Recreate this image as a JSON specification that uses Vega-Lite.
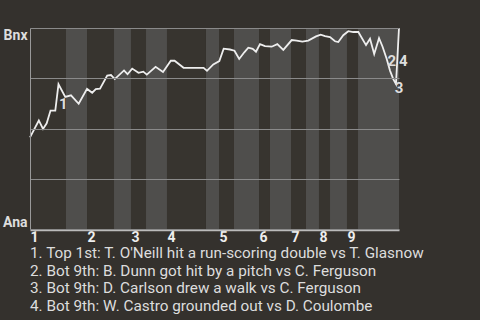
{
  "$schema": "https://vega.github.io/schema/vega-lite/v6.json",
  "width": 369,
  "height": 201,
  "autosize": {"type": "none"},
  "padding": {"left": 30, "top": 28, "right": 81, "bottom": 91},
  "background": "#34312d",
  "config": {"view": {"stroke": null}, "font": "Roboto"},
  "title": {
    "text": [
      "1. Top 1st: T. O'Neill hit a run-scoring double vs T. Glasnow",
      "2. Bot 9th: B. Dunn got hit by a pitch vs C. Ferguson",
      "3. Bot 9th: D. Carlson drew a walk vs C. Ferguson",
      "4. Bot 9th: W. Castro grounded out vs D. Coulombe"
    ],
    "orient": "bottom",
    "anchor": "start",
    "frame": "group",
    "fontSize": 15.3,
    "fontWeight": "normal",
    "color": "#dddddd",
    "lineHeight": 17.7,
    "offset": 2,
    "font": "Roboto"
  },
  "datasets": {
    "halves": [
      {"inning": 1, "half": "top", "start": 0, "end": 8},
      {"inning": 1, "half": "bot", "start": 8, "end": 12.67},
      {"inning": 2, "half": "top", "start": 12.67, "end": 18.67},
      {"inning": 2, "half": "bot", "start": 18.67, "end": 22.44},
      {"inning": 3, "half": "top", "start": 22.44, "end": 25.78},
      {"inning": 3, "half": "bot", "start": 25.78, "end": 30.44},
      {"inning": 4, "half": "top", "start": 30.44, "end": 39.11},
      {"inning": 4, "half": "bot", "start": 39.11, "end": 42},
      {"inning": 5, "half": "top", "start": 42, "end": 45.33},
      {"inning": 5, "half": "bot", "start": 45.33, "end": 50.89},
      {"inning": 6, "half": "top", "start": 50.89, "end": 53.33},
      {"inning": 6, "half": "bot", "start": 53.33, "end": 58},
      {"inning": 7, "half": "top", "start": 58, "end": 61.33},
      {"inning": 7, "half": "bot", "start": 61.33, "end": 64.22},
      {"inning": 8, "half": "top", "start": 64.22, "end": 66.67},
      {"inning": 8, "half": "bot", "start": 66.67, "end": 70.44},
      {"inning": 9, "half": "top", "start": 70.44, "end": 72.89},
      {"inning": 9, "half": "bot", "start": 72.89, "end": 82}
    ],
    "wp": [
      {"play": 0, "wp": 0.456},
      {"play": 1.96, "wp": 0.54},
      {"play": 2.89, "wp": 0.498},
      {"play": 3.71, "wp": 0.526},
      {"play": 4.56, "wp": 0.589},
      {"play": 5.62, "wp": 0.589},
      {"play": 6.33, "wp": 0.72},
      {"play": 7.84, "wp": 0.657},
      {"play": 9.11, "wp": 0.665},
      {"play": 10.82, "wp": 0.623},
      {"play": 12.67, "wp": 0.697},
      {"play": 13.82, "wp": 0.678},
      {"play": 14.62, "wp": 0.696},
      {"play": 15.56, "wp": 0.698},
      {"play": 17.16, "wp": 0.763},
      {"play": 18, "wp": 0.766},
      {"play": 18.84, "wp": 0.746},
      {"play": 20.89, "wp": 0.789},
      {"play": 21.67, "wp": 0.77},
      {"play": 22.71, "wp": 0.798},
      {"play": 24.11, "wp": 0.777},
      {"play": 25.18, "wp": 0.783},
      {"play": 25.96, "wp": 0.768},
      {"play": 27.91, "wp": 0.807},
      {"play": 29.56, "wp": 0.781},
      {"play": 31.29, "wp": 0.837},
      {"play": 32.13, "wp": 0.837},
      {"play": 34.13, "wp": 0.802},
      {"play": 38.58, "wp": 0.802},
      {"play": 39.33, "wp": 0.787},
      {"play": 40.73, "wp": 0.819},
      {"play": 42.07, "wp": 0.835},
      {"play": 43.04, "wp": 0.897},
      {"play": 44.44, "wp": 0.893},
      {"play": 45.44, "wp": 0.887},
      {"play": 46.49, "wp": 0.846},
      {"play": 47.62, "wp": 0.879},
      {"play": 48.51, "wp": 0.902},
      {"play": 49.49, "wp": 0.896},
      {"play": 50.22, "wp": 0.882},
      {"play": 51.11, "wp": 0.92},
      {"play": 52.22, "wp": 0.91},
      {"play": 53.71, "wp": 0.907},
      {"play": 54.96, "wp": 0.92},
      {"play": 56.29, "wp": 0.891},
      {"play": 58.16, "wp": 0.94},
      {"play": 59.27, "wp": 0.937},
      {"play": 60.51, "wp": 0.932},
      {"play": 61.84, "wp": 0.937},
      {"play": 63.56, "wp": 0.958},
      {"play": 64.6, "wp": 0.967},
      {"play": 65.56, "wp": 0.96},
      {"play": 66.67, "wp": 0.955},
      {"play": 67.78, "wp": 0.934},
      {"play": 68.51, "wp": 0.93},
      {"play": 69.62, "wp": 0.964},
      {"play": 70.73, "wp": 0.984},
      {"play": 71.84, "wp": 0.98},
      {"play": 72.96, "wp": 0.98},
      {"play": 74.67, "wp": 0.915},
      {"play": 75.56, "wp": 0.947},
      {"play": 76.49, "wp": 0.871},
      {"play": 77.56, "wp": 0.949},
      {"play": 78.33, "wp": 0.908},
      {"play": 79.27, "wp": 0.846},
      {"play": 80, "wp": 0.788},
      {"play": 80.73, "wp": 0.746},
      {"play": 81.33, "wp": 0.721},
      {"play": 82, "wp": 1.0}
    ],
    "events": [
      {"n": "1", "x": 7.4, "y": 0.622},
      {"n": "2", "x": 80.38, "y": 0.834},
      {"n": "3", "x": 82.0, "y": 0.7},
      {"n": "4", "x": 82.96, "y": 0.834}
    ]
  },
  "layer": [
    {
      "data": {"name": "halves"},
      "mark": {"type": "rect"},
      "encoding": {
        "x": {
          "field": "start",
          "type": "quantitative",
          "scale": {"domain": [0, 82], "nice": false, "zero": false},
          "axis": {
            "values": [0, 12.67, 22.44, 30.44, 42, 50.89, 58, 64.22, 70.44],
            "labelExpr": "indexof([0, 12.67, 22.44, 30.44, 42, 50.89, 58, 64.22, 70.44], datum.value) + 1",
            "title": null,
            "grid": false,
            "ticks": false,
            "domainColor": "#bbbbbb",
            "domainWidth": 1.5,
            "labelAlign": "left",
            "labelBaseline": "top",
            "labelPadding": 0,
            "labelFontSize": 14,
            "labelFontWeight": "bold",
            "labelColor": "#eeeeee",
            "labelFlush": false,
            "labelOverlap": false,
            "offset": 1
          }
        },
        "x2": {"field": "end"},
        "color": {
          "field": "half",
          "type": "nominal",
          "scale": {"domain": ["top", "bot"], "range": ["#37342f", "#4f4e4c"]},
          "legend": null
        }
      }
    },
    {
      "data": {"name": "wp"},
      "mark": {"type": "line", "color": "#eeeeee", "strokeWidth": 1.8},
      "encoding": {
        "x": {"field": "play", "type": "quantitative"},
        "y": {
          "field": "wp",
          "type": "quantitative",
          "scale": {"domain": [0, 1], "nice": false},
          "axis": {
            "values": [0, 0.25, 0.5, 0.75, 1],
            "labelExpr": "datum.value == 1 ? 'Bnx' : (datum.value == 0 ? 'Ana' : '')",
            "title": null,
            "ticks": false,
            "grid": true,
            "gridColor": "#8a8a8a",
            "domainColor": "#999999",
            "labelFlush": true,
            "labelFontSize": 14,
            "labelFontWeight": "bold",
            "labelColor": "#dddddd",
            "labelPadding": 3,
            "zindex": 1
          }
        }
      }
    },
    {
      "data": {"name": "events"},
      "mark": {"type": "text", "fontWeight": "bold", "fontSize": 15, "color": "#dddddd", "align": "center", "baseline": "middle"},
      "encoding": {
        "x": {"field": "x", "type": "quantitative"},
        "y": {"field": "y", "type": "quantitative"},
        "text": {"field": "n"}
      }
    }
  ]
}
